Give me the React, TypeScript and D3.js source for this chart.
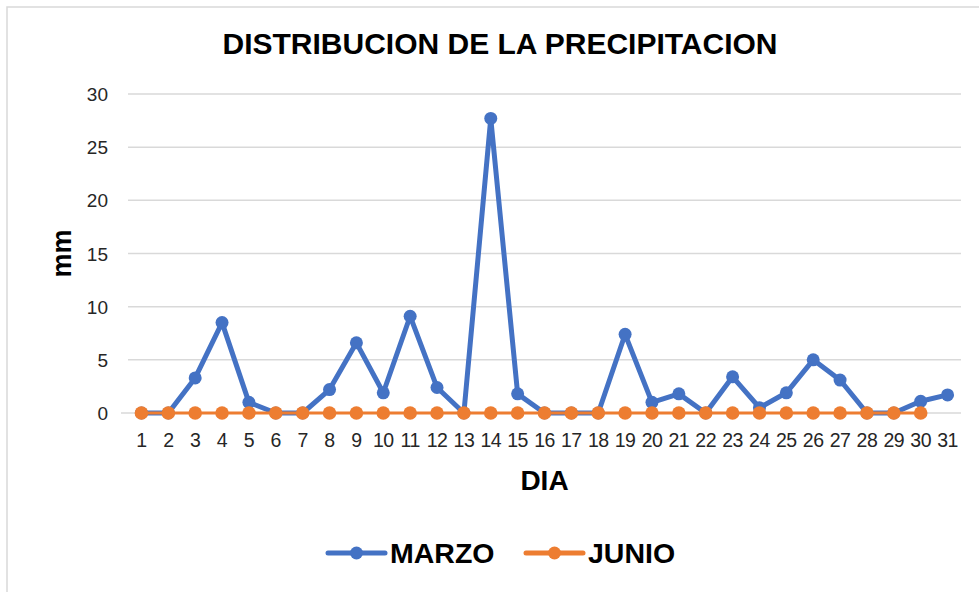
import React, { useEffect, useRef } from "react";
import * as d3 from "d3";

const days = d3.range(1, 32).map(String);
const marzo = [0, 0, 3.3, 8.5, 1, 0, 0, 2.2, 6.6, 1.9, 9.1, 2.4, 0, 27.7, 1.8, 0, 0, 0, 7.4, 1, 1.8, 0, 3.4, 0.5, 1.9, 5, 3.1, 0, 0, 1.1, 1.7];
const junio = [0, 0, 0, 0, 0, 0, 0, 0, 0, 0, 0, 0, 0, 0, 0, 0, 0, 0, 0, 0, 0, 0, 0, 0, 0, 0, 0, 0, 0, 0];
const yTicks = [0, 5, 10, 15, 20, 25, 30];
const seriesNames = ["MARZO", "JUNIO"];
const colors = ["#4472C4", "#ED7D31"];

const width = 979;
const height = 592;
const margins = { top: 94, right: 18, bottom: 179, left: 128 };
const font = "'Liberation Sans', Arial, sans-serif";

export default function App() {
	const ref = useRef<SVGSVGElement>(null);

	useEffect(() => {
		const svg = d3.select(ref.current);
		svg.selectAll("*").remove();

		// chart frame
		svg.append("rect")
			.attr("x", 7)
			.attr("y", 7)
			.attr("width", width)
			.attr("height", height)
			.attr("fill", "#fff")
			.attr("stroke", "#D9D9D9")
			.attr("stroke-width", 1.5);

		const x = d3.scalePoint<string>()
			.domain(days)
			.range([margins.left, width - margins.right])
			.padding(0.5);
		const y = d3.scaleLinear()
			.domain([0, 30])
			.range([height - margins.bottom, margins.top]);

		// gridlines
		svg.append("g")
			.selectAll("line")
			.data(yTicks)
			.join("line")
			.attr("x1", (d) => (d === 0 ? margins.left - 7 : margins.left))
			.attr("x2", width - margins.right)
			.attr("y1", (d) => y(d))
			.attr("y2", (d) => y(d))
			.attr("stroke", "#D9D9D9")
			.attr("stroke-width", 1.5);

		// y axis labels
		svg.append("g")
			.selectAll("text")
			.data(yTicks)
			.join("text")
			.attr("x", 108)
			.attr("y", (d) => y(d) + 7)
			.attr("text-anchor", "end")
			.attr("font-family", font)
			.attr("font-size", 19)
			.attr("fill", "#262626")
			.text((d) => d);

		// x axis labels
		svg.append("g")
			.selectAll("text")
			.data(days)
			.join("text")
			.attr("x", (d) => x(d)!)
			.attr("y", 447)
			.attr("text-anchor", "middle")
			.attr("font-family", font)
			.attr("font-size", 19.5)
			.attr("letter-spacing", -0.5)
			.attr("fill", "#262626")
			.text((d) => d);

		// series
		[marzo, junio].forEach((vals, i) => {
			const g = svg.append("g");
			const lineGen = d3.line<number>()
				.x((_, j) => x(days[j])!)
				.y((d) => y(d));
			g.append("path")
				.datum(vals)
				.attr("d", lineGen)
				.attr("fill", "none")
				.attr("stroke", colors[i])
				.attr("stroke-width", i === 0 ? 5 : 3)
				.attr("stroke-linejoin", "round");
			g.selectAll("circle")
				.data(vals)
				.join("circle")
				.attr("cx", (_, j) => x(days[j])!)
				.attr("cy", (d) => y(d))
				.attr("r", i === 0 ? 6.5 : 6.8)
				.attr("fill", colors[i]);
		});

		// title
		svg.append("text")
			.attr("x", 500)
			.attr("y", 54)
			.attr("text-anchor", "middle")
			.attr("font-family", font)
			.attr("font-weight", "bold")
			.attr("font-size", 30)
			.attr("fill", "#000")
			.text("DISTRIBUCION DE LA PRECIPITACION");

		// axis titles
		svg.append("text")
			.attr("transform", `translate(71,${(margins.top + height - margins.bottom) / 2}) rotate(-90)`)
			.attr("text-anchor", "middle")
			.attr("font-family", font)
			.attr("font-weight", "bold")
			.attr("font-size", 27)
			.attr("fill", "#000")
			.text("mm");
		svg.append("text")
			.attr("x", (margins.left + width - margins.right) / 2)
			.attr("y", 490)
			.attr("text-anchor", "middle")
			.attr("font-family", font)
			.attr("font-weight", "bold")
			.attr("font-size", 28)
			.attr("fill", "#000")
			.text("DIA");

		// legend
		const legendX = [328, 526];
		seriesNames.forEach((name, i) => {
			const lg = svg.append("g").attr("transform", `translate(${legendX[i]},553)`);
			lg.append("line")
				.attr("x1", 0)
				.attr("x2", 57)
				.attr("stroke", colors[i])
				.attr("stroke-width", 5)
				.attr("stroke-linecap", "round");
			lg.append("circle")
				.attr("cx", 28.5)
				.attr("r", 6.5)
				.attr("fill", colors[i]);
			lg.append("text")
				.attr("x", 62)
				.attr("y", 10)
				.attr("font-family", font)
				.attr("font-weight", "bold")
				.attr("font-size", 28.5)
				.attr("fill", "#000")
				.text(name);
		});
	}, []);

	return (
		<svg
			ref={ref}
			width={width}
			height={height}
			style={{ position: "absolute", left: 0, top: 0 }}
		/>
	);
}
